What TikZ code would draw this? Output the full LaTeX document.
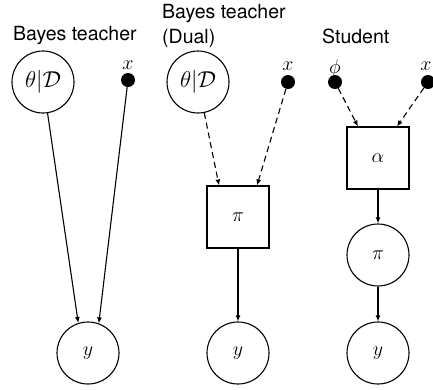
\RequirePackage{fix-cm}
\documentclass[tikz,border=0pt]{standalone}
\usepackage{fontspec}
\setmainfont{TeX Gyre Heros}
\usetikzlibrary{arrows.meta}
\begin{document}
\begin{tikzpicture}[x=1pt,y=-1pt,
  every node/.style={inner sep=0pt},
  var/.style={draw,circle,line width=1.1pt,minimum size=62pt,font=\fontsize{20}{22}\selectfont},
  fac/.style={draw,rectangle,line width=1.1pt,minimum size=62pt,font=\fontsize{20}{22}\selectfont},
  post/.style={var,font=\fontsize{23}{25}\selectfont},
  obs/.style={circle,fill=black,minimum size=14pt},
  lab/.style={font=\fontsize{20}{22}\selectfont},
  ttl/.style={font=\fontsize{19.5}{25}\selectfont,anchor=base west,align=left},
  conn/.style={line width=1.1pt,-{Latex[length=6pt,width=5pt]}},
  dconn/.style={conn,dash pattern=on 6pt off 4pt}]
\useasboundingbox (0,0) rectangle (433,389);
% titles
\node[ttl] (t1) at (13,40) {Bayes teacher};
\node[ttl] (t2) at (162,18) {Bayes teacher};
\node[ttl] (t2b) at (162,43) {(Dual)};
\node[ttl] (t3) at (322,43) {Student};
% column 1
\node[post] (th1) at (43,82) {$\theta|\mathcal{D}$};
\node[obs] (x1) at (128,80) {};
\node[lab] (lx1) at (128,65) {$x$};
\node[var] (y1) at (88,353) {$y$};
\draw[conn] (th1) -- (y1.108);
\draw[conn] (x1) -- (y1.70);
% column 2
\node[post] (th2) at (198,82) {$\theta|\mathcal{D}$};
\node[obs] (x2) at (288,82) {};
\node[lab] (lx2) at (288,66) {$x$};
\node[fac] (pi2) at (238,217) {$\pi$};
\node[var] (y2) at (238,353) {$y$};
\draw[dconn] (th2) -- ([xshift=-19pt]pi2.north);
\draw[dconn] (x2) -- ([xshift=19pt]pi2.north);
\draw[conn] (pi2) -- (y2);
% column 3
\node[obs] (phi) at (335,82) {};
\node[lab] (lphi) at (335,68) {$\phi$};
\node[obs] (x3) at (428,82) {};
\node[lab] (lx3) at (426,66) {$x$};
\node[fac] (al) at (378,158) {$\alpha$};
\node[var] (pi3) at (378,255) {$\pi$};
\node[var] (y3) at (378,353) {$y$};
\draw[dconn] (phi) -- ([xshift=-20pt]al.north);
\draw[dconn] (x3) -- ([xshift=19pt]al.north);
\draw[conn] (al) -- (pi3);
\draw[conn] (pi3) -- (y3);
\end{tikzpicture}
\end{document}
